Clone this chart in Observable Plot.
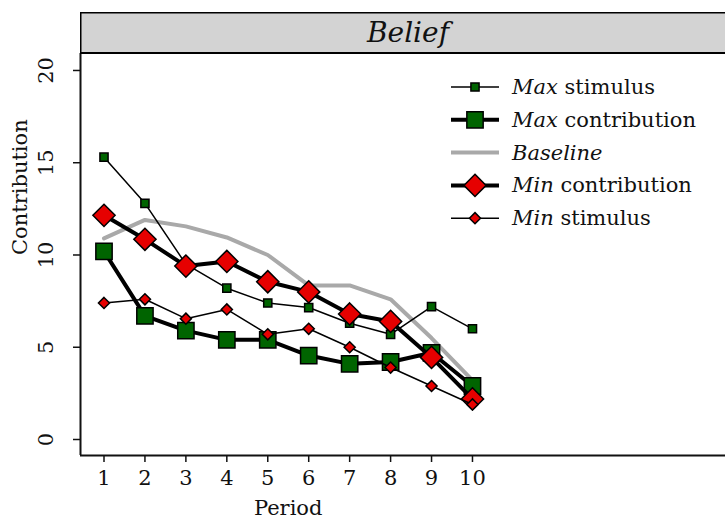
<!DOCTYPE html>
<html>
<head>
<meta charset="utf-8">
<script src="https://cdn.jsdelivr.net/npm/d3@7"></script>
<script src="https://cdn.jsdelivr.net/npm/@observablehq/plot@0.6"></script>
<style>
  body { margin: 0; background: #fff; }
  #wrap { position: relative; width: 725px; height: 518px; }
  #overlay { position: absolute; left: 0; top: 0; }
</style>
</head>
<body>
<div id="wrap">
  <div id="chart"></div>
</div>
<script>
const periods = [1, 2, 3, 4, 5, 6, 7, 8, 9, 10];
const maxStimulus     = [15.3, 12.8, 9.5, 8.2, 7.4, 7.15, 6.3, 5.7, 7.2, 6.0];
const maxContribution = [10.2, 6.7, 5.9, 5.4, 5.4, 4.55, 4.1, 4.2, 4.7, 2.9];
const baseline        = [10.9, 11.9, 11.55, 10.95, 10.0, 8.35, 8.35, 7.6, 5.5, 3.2];
const minContribution = [12.15, 10.85, 9.4, 9.65, 8.55, 8.0, 6.8, 6.4, 4.45, 2.2];
const minStimulus     = [7.4, 7.6, 6.55, 7.05, 5.7, 6.0, 5.0, 3.9, 2.9, 1.9];
const yTicks = [0, 5, 10, 15, 20];
const panelTitle = "Belief";

const rows = v => periods.map((p, i) => ({period: p, value: v[i]}));
const GREEN = "#006400", RED = "#e60000";
const FONT = "DejaVu Serif, serif";

const series = [
  {name: ["Max", " stimulus"], data: maxStimulus, lw: 1.5, symbol: "square", r: 4.6, fill: GREEN, legendOrder: 0},
  {name: ["Max", " contribution"], data: maxContribution, lw: 4, symbol: "square", r: 9.2, fill: GREEN, legendOrder: 1},
  {name: ["Baseline", ""], data: baseline, lw: 4, stroke: "#a9a9a9", legendOrder: 2},
  {name: ["Min", " contribution"], data: minContribution, lw: 4, symbol: "diamond2", r: 10, fill: RED, legendOrder: 3},
  {name: ["Min", " stimulus"], data: minStimulus, lw: 1.5, symbol: "diamond2", r: 5, fill: RED, legendOrder: 4}
];
const drawOrder = [2, 0, 1, 3, 4];

const xDom = [0.426, 16.18], yDom = [-0.867, 20.92];
const font = 21;

const marks = [];
for (const k of drawOrder) {
  const s = series[k];
  const d = rows(s.data);
  marks.push(Plot.line(d, {x: "period", y: "value", stroke: s.stroke || "#000", strokeWidth: s.lw}));
  if (s.symbol) marks.push(Plot.dot(d, {x: "period", y: "value", symbol: s.symbol, r: s.r, fill: s.fill, stroke: "#000", strokeWidth: 1.5}));
}

const chart = Plot.plot({
  width: 725, height: 518,
  marginLeft: 80, marginRight: 0, marginTop: 53, marginBottom: 63,
  x: {domain: xDom},
  y: {domain: yDom},
  style: {fontFamily: FONT, fontSize: font + "px", color: "#111", background: "transparent"},
  marks: [
    Plot.axisX({ticks: periods, tickSize: 7, tickPadding: 8, label: null, fontSize: font, strokeWidth: 1.5}),
    Plot.axisY({ticks: yTicks, tickSize: 7, tickFormat: () => "", label: null, strokeWidth: 1.5}),
    Plot.text(yTicks, {frameAnchor: "left", y: d => d, text: d => String(d), rotate: -90, dx: -34, fontSize: font, textAnchor: "middle"}),
    Plot.text(["Period"], {x: 5.5, frameAnchor: "bottom", dy: 59, fontSize: font}),
    Plot.text(["Contribution"], {y: 10, frameAnchor: "left", dx: -60, rotate: -90, fontSize: font}),
    ...marks,
    Plot.ruleX([xDom[0]], {strokeWidth: 2}),
    Plot.ruleY([yDom[0]], {strokeWidth: 2})
  ]
});
document.getElementById("chart").appendChild(chart);

// overlay: panel strip and legend, drawn in SVG
const ov = d3.select("#wrap").append("svg").attr("id", "overlay")
  .attr("width", 725).attr("height", 518)
  .style("font-family", FONT).style("pointer-events", "none");

ov.append("rect").attr("x", 80.75).attr("y", 12.75).attr("width", 650).attr("height", 40)
  .attr("fill", "#d3d3d3").attr("stroke", "#000").attr("stroke-width", 1.5);
ov.append("line").attr("x1", 80).attr("x2", 725).attr("y1", 53).attr("y2", 53)
  .attr("stroke", "#000").attr("stroke-width", 2);
ov.append("text").attr("x", 408).attr("y", 32).attr("dy", "0.35em")
  .attr("text-anchor", "middle").attr("font-style", "italic").attr("font-size", 28)
  .attr("fill", "#111").text(panelTitle);

const lg = ov.append("g").attr("transform", "translate(451,87)");
[...series].sort((a, b) => a.legendOrder - b.legendOrder).forEach((s, i) => {
  const g = lg.append("g").attr("transform", `translate(0,${i * 32.8})`);
  g.append("line").attr("x1", 0).attr("x2", 48).attr("stroke", s.stroke || "#000").attr("stroke-width", s.lw);
  if (s.symbol) {
    const sym = s.symbol === "square" ? d3.symbolSquare : d3.symbolDiamond2;
    g.append("path").attr("transform", "translate(24,0)")
      .attr("d", d3.symbol(sym, Math.PI * s.r * s.r)())
      .attr("fill", s.fill).attr("stroke", "#000").attr("stroke-width", 1.5);
  }
  const t = g.append("text").attr("x", 61).attr("dy", "0.33em").attr("font-size", 21).attr("fill", "#111");
  t.append("tspan").attr("font-style", "italic").text(s.name[0]);
  t.append("tspan").text(s.name[1]);
});
</script>
</body>
</html>
